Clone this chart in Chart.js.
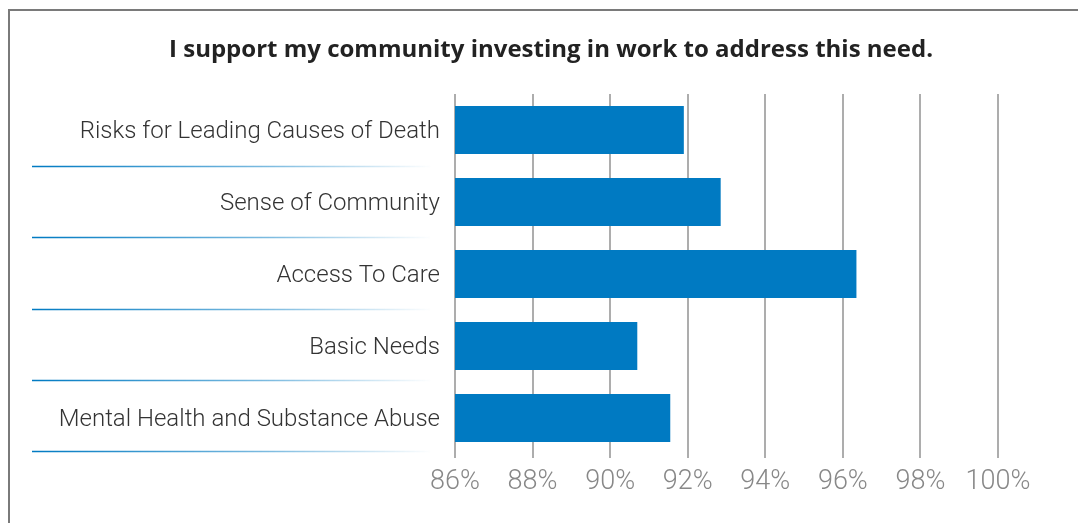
<!DOCTYPE html>
<html>
<head>
<meta charset="utf-8">
<script src="https://cdn.jsdelivr.net/npm/chart.js@4/dist/chart.umd.min.js"></script>
<style>
  html, body { margin: 0; padding: 0; background: #fff; }
  #wrap { width: 1078px; height: 523px; position: relative; }
</style>
</head>
<body>
<div id="wrap"><canvas id="c" width="1078" height="523"></canvas></div>
<script>
// Survey topics and the share of respondents supporting investment in each
const categories = [
  'Risks for Leading Causes of Death',
  'Sense of Community',
  'Access To Care',
  'Basic Needs',
  'Mental Health and Substance Abuse'
];
const supportPct = [91.9, 92.85, 96.35, 90.7, 91.55];
const tickValues = [86, 88, 90, 92, 94, 96, 98, 100];
const titleText = 'I support my community investing in work to address this need.';

// Outer frame (top and left edges of a box running off the canvas) and the heading
const framePlugin = {
  id: 'frame',
  beforeDraw(chart) {
    const ctx = chart.ctx;
    ctx.save();
    ctx.strokeStyle = '#7a7a7a';
    ctx.lineWidth = 2;
    ctx.beginPath();
    ctx.moveTo(9, 600);
    ctx.lineTo(9, 10);
    ctx.lineTo(1100, 10);
    ctx.stroke();
    ctx.fillStyle = '#222';
    ctx.font = 'bold 24px "Open Sans"';
    ctx.textAlign = 'center';
    ctx.textBaseline = 'middle';
    ctx.fillText(titleText, 551, 50);
    ctx.restore();
  }
};

// Blue rules under each category label, fading out toward the bars
const separatorPlugin = {
  id: 'separators',
  afterDraw(chart) {
    const ctx = chart.ctx;
    const y = chart.scales.y;
    const half = (y.getPixelForValue(1) - y.getPixelForValue(0)) / 2;
    const x0 = 32, x1 = 432;
    ctx.save();
    categories.forEach((_, i) => {
      const py = Math.round(y.getPixelForValue(i) + half - i * 0.75) + 0.5;
      const g = ctx.createLinearGradient(x0, 0, x1, 0);
      g.addColorStop(0, 'rgba(0,122,194,1)');
      g.addColorStop(0.6, 'rgba(0,122,194,0.5)');
      g.addColorStop(1, 'rgba(0,122,194,0)');
      ctx.strokeStyle = g;
      ctx.lineWidth = 1.5;
      ctx.beginPath();
      ctx.moveTo(x0, py);
      ctx.lineTo(x1, py);
      ctx.stroke();
    });
    ctx.restore();
  }
};

new Chart(document.getElementById('c'), {
  type: 'bar',
  data: {
    labels: categories,
    datasets: [{
      data: supportPct,
      backgroundColor: '#007ac2',
      borderWidth: 0,
      barPercentage: 0.667,
      categoryPercentage: 1.0
    }]
  },
  options: {
    indexAxis: 'y',
    responsive: false,
    animation: false,
    layout: { padding: { left: 0, right: 80, top: 94, bottom: 0 } },
    plugins: {
      legend: { display: false },
      tooltip: { enabled: false },
      title: { display: false }
    },
    scales: {
      x: {
        min: 86,
        max: 100,
        afterBuildTicks(scale) {
          scale.ticks = tickValues.map(v => ({ value: v }));
        },
        afterFit(scale) { scale.height = 69; },
        grid: {
          color: '#adadad',
          lineWidth: 2,
          drawTicks: true,
          tickLength: 4
        },
        border: { display: false },
        ticks: {
          color: '#888',
          font: { family: 'Roboto', size: 27, weight: '300' },
          padding: 8,
          callback: v => v + '%'
        }
      },
      y: {
        afterFit(scale) { scale.width = 455; },
        grid: { display: false, drawTicks: false },
        border: { display: false },
        ticks: {
          color: '#333',
          font: { family: 'Roboto', size: 24, weight: '300' },
          padding: 15,
          labelOffset: 2
        }
      }
    }
  },
  plugins: [framePlugin, separatorPlugin]
});
</script>
</body>
</html>
